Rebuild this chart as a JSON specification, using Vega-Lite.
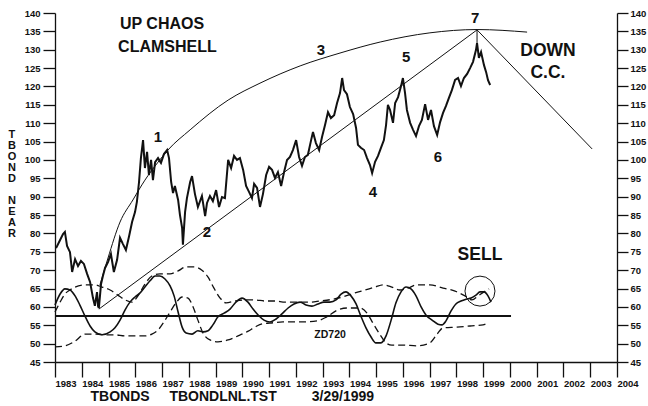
{
  "$schema": "https://vega.github.io/schema/vega-lite/v6.json",
  "width": 562,
  "height": 349,
  "autosize": {"type": "none"},
  "padding": {"left": 55, "top": 13, "right": 31, "bottom": 44},
  "background": "white",
  "config": {
    "view": {"stroke": null},
    "axis": {"grid": false, "domainColor": "#111", "tickColor": "#111", "labelColor": "#111", "domainWidth": 1.3, "tickWidth": 1.3, "labelFont": "Liberation Sans", "labelFontSize": 9.5, "labelFontWeight": "bold"},
    "text": {"font": "Liberation Sans", "fontWeight": "bold", "color": "#111", "align": "center", "baseline": "middle"}
  },
  "datasets": {
    "price": [
      {"t":1983.04,"v":76.0},{"t":1983.19,"v":78.2},{"t":1983.30,"v":79.8},{"t":1983.37,"v":80.4},{"t":1983.45,"v":76.6},{"t":1983.56,"v":74.9},{"t":1983.64,"v":69.5},{"t":1983.75,"v":73.0},{"t":1983.86,"v":71.1},{"t":1983.97,"v":72.5},
      {"t":1984.08,"v":71.7},{"t":1984.20,"v":69.0},{"t":1984.31,"v":66.8},{"t":1984.42,"v":62.4},{"t":1984.49,"v":60.3},{"t":1984.57,"v":64.0},{"t":1984.61,"v":60.2},{"t":1984.64,"v":59.7},{"t":1984.72,"v":66.2},{"t":1984.79,"v":68.4},
      {"t":1984.87,"v":70.6},{"t":1984.98,"v":72.2},{"t":1985.09,"v":74.4},{"t":1985.20,"v":69.5},{"t":1985.32,"v":72.8},{"t":1985.43,"v":78.8},{"t":1985.54,"v":77.1},{"t":1985.65,"v":75.5},{"t":1985.77,"v":79.3},{"t":1985.88,"v":83.1},
      {"t":1985.99,"v":85.8},{"t":1986.06,"v":88.6},{"t":1986.14,"v":94.0},{"t":1986.21,"v":100.5},{"t":1986.29,"v":105.4},{"t":1986.36,"v":97.8},{"t":1986.44,"v":102.2},{"t":1986.51,"v":95.9},{"t":1986.59,"v":100.0},{"t":1986.66,"v":94.5},
      {"t":1986.74,"v":99.4},{"t":1986.85,"v":100.5},{"t":1986.96,"v":99.2},{"t":1987.07,"v":101.6},{"t":1987.19,"v":102.7},{"t":1987.26,"v":100.5},{"t":1987.34,"v":94.0},{"t":1987.41,"v":91.0},{"t":1987.48,"v":92.9},{"t":1987.60,"v":89.1},
      {"t":1987.67,"v":85.0},{"t":1987.75,"v":81.5},{"t":1987.78,"v":76.9},{"t":1987.86,"v":85.8},{"t":1987.93,"v":89.6},{"t":1988.05,"v":94.0},{"t":1988.12,"v":95.6},{"t":1988.23,"v":90.7},{"t":1988.34,"v":87.2},{"t":1988.49,"v":90.2},
      {"t":1988.61,"v":84.7},{"t":1988.68,"v":88.3},{"t":1988.79,"v":90.2},{"t":1988.90,"v":88.8},{"t":1989.02,"v":91.8},{"t":1989.13,"v":87.2},{"t":1989.24,"v":89.9},{"t":1989.35,"v":89.6},{"t":1989.47,"v":100.0},{"t":1989.58,"v":97.8},
      {"t":1989.69,"v":101.1},{"t":1989.80,"v":100.0},{"t":1989.91,"v":100.5},{"t":1990.03,"v":97.3},{"t":1990.14,"v":92.9},{"t":1990.25,"v":91.3},{"t":1990.36,"v":89.6},{"t":1990.44,"v":93.5},{"t":1990.55,"v":92.4},{"t":1990.66,"v":87.2},
      {"t":1990.77,"v":90.7},{"t":1990.89,"v":95.9},{"t":1991.00,"v":98.1},{"t":1991.11,"v":97.3},{"t":1991.22,"v":95.1},{"t":1991.33,"v":96.7},{"t":1991.45,"v":92.9},{"t":1991.56,"v":96.7},{"t":1991.67,"v":100.0},{"t":1991.78,"v":100.8},
      {"t":1991.89,"v":102.7},{"t":1992.01,"v":105.4},{"t":1992.12,"v":100.8},{"t":1992.23,"v":98.4},{"t":1992.34,"v":100.8},{"t":1992.45,"v":101.4},{"t":1992.57,"v":105.4},{"t":1992.64,"v":107.6},{"t":1992.75,"v":104.6},{"t":1992.87,"v":102.7},
      {"t":1992.98,"v":106.3},{"t":1993.09,"v":109.5},{"t":1993.20,"v":113.0},{"t":1993.31,"v":111.4},{"t":1993.43,"v":112.2},{"t":1993.54,"v":115.5},{"t":1993.65,"v":118.2},{"t":1993.73,"v":122.3},{"t":1993.80,"v":119.0},{"t":1993.91,"v":117.9},
      {"t":1994.02,"v":114.4},{"t":1994.14,"v":112.5},{"t":1994.25,"v":108.7},{"t":1994.32,"v":104.1},{"t":1994.43,"v":103.3},{"t":1994.55,"v":102.7},{"t":1994.66,"v":100.5},{"t":1994.77,"v":98.6},{"t":1994.85,"v":96.4},{"t":1994.96,"v":99.5},
      {"t":1995.07,"v":101.1},{"t":1995.18,"v":103.3},{"t":1995.29,"v":105.4},{"t":1995.37,"v":109.5},{"t":1995.44,"v":115.0},{"t":1995.52,"v":113.6},{"t":1995.63,"v":110.1},{"t":1995.71,"v":115.5},{"t":1995.82,"v":117.1},{"t":1995.93,"v":120.1},
      {"t":1996.00,"v":122.3},{"t":1996.08,"v":118.2},{"t":1996.15,"v":113.6},{"t":1996.27,"v":110.1},{"t":1996.38,"v":108.2},{"t":1996.49,"v":106.5},{"t":1996.60,"v":109.2},{"t":1996.71,"v":110.9},{"t":1996.83,"v":115.2},{"t":1996.94,"v":110.9},
      {"t":1997.05,"v":113.6},{"t":1997.16,"v":109.2},{"t":1997.28,"v":106.8},{"t":1997.39,"v":110.3},{"t":1997.50,"v":112.8},{"t":1997.61,"v":114.7},{"t":1997.72,"v":116.9},{"t":1997.83,"v":119.0},{"t":1997.95,"v":121.8},{"t":1998.06,"v":122.3},
      {"t":1998.17,"v":120.1},{"t":1998.28,"v":122.3},{"t":1998.40,"v":123.4},{"t":1998.51,"v":125.0},{"t":1998.62,"v":126.7},{"t":1998.73,"v":129.9},{"t":1998.77,"v":131.8},{"t":1998.84,"v":127.8},{"t":1998.92,"v":129.4},{"t":1999.03,"v":125.8},
      {"t":1999.11,"v":123.9},{"t":1999.18,"v":121.7},{"t":1999.26,"v":120.4}
    ],
    "osc": [
      {"t":1983.00,"v":60.5},{"t":1983.19,"v":63.5},{"t":1983.37,"v":64.9},{"t":1983.56,"v":64.6},{"t":1983.75,"v":63.0},{"t":1983.93,"v":60.5},{"t":1984.12,"v":57.5},{"t":1984.31,"v":54.8},{"t":1984.49,"v":53.2},{"t":1984.76,"v":52.4},
      {"t":1985.06,"v":53.2},{"t":1985.24,"v":54.3},{"t":1985.43,"v":56.4},{"t":1985.62,"v":59.2},{"t":1985.80,"v":61.3},{"t":1985.99,"v":62.7},{"t":1986.18,"v":63.8},{"t":1986.36,"v":65.4},{"t":1986.55,"v":67.1},{"t":1986.74,"v":68.4},
      {"t":1986.92,"v":68.4},{"t":1987.11,"v":67.6},{"t":1987.30,"v":65.7},{"t":1987.45,"v":63.0},{"t":1987.60,"v":58.6},{"t":1987.75,"v":54.5},{"t":1987.90,"v":52.9},{"t":1988.12,"v":52.6},{"t":1988.34,"v":53.5},{"t":1988.53,"v":53.2},
      {"t":1988.72,"v":53.5},{"t":1988.90,"v":55.1},{"t":1989.09,"v":57.3},{"t":1989.32,"v":58.3},{"t":1989.54,"v":59.4},{"t":1989.76,"v":61.3},{"t":1989.99,"v":62.4},{"t":1990.21,"v":61.3},{"t":1990.40,"v":59.4},{"t":1990.59,"v":57.8},
      {"t":1990.81,"v":56.4},{"t":1991.03,"v":55.9},{"t":1991.26,"v":56.7},{"t":1991.48,"v":58.1},{"t":1991.71,"v":59.7},{"t":1991.93,"v":60.8},{"t":1992.16,"v":61.3},{"t":1992.38,"v":60.5},{"t":1992.60,"v":60.2},{"t":1992.83,"v":60.8},
      {"t":1993.05,"v":61.3},{"t":1993.27,"v":61.3},{"t":1993.50,"v":61.9},{"t":1993.69,"v":63.5},{"t":1993.87,"v":64.1},{"t":1994.06,"v":63.0},{"t":1994.25,"v":60.8},{"t":1994.43,"v":57.5},{"t":1994.62,"v":54.3},{"t":1994.81,"v":51.8},
      {"t":1994.99,"v":50.2},{"t":1995.18,"v":50.2},{"t":1995.37,"v":52.1},{"t":1995.56,"v":56.4},{"t":1995.74,"v":61.1},{"t":1995.93,"v":64.1},{"t":1996.12,"v":65.4},{"t":1996.30,"v":64.9},{"t":1996.49,"v":63.0},{"t":1996.68,"v":60.0},
      {"t":1996.86,"v":57.8},{"t":1997.09,"v":56.4},{"t":1997.31,"v":55.3},{"t":1997.46,"v":55.1},{"t":1997.61,"v":56.2},{"t":1997.80,"v":58.9},{"t":1997.98,"v":60.8},{"t":1998.17,"v":61.6},{"t":1998.36,"v":62.1},{"t":1998.55,"v":62.4},
      {"t":1998.73,"v":63.2},{"t":1998.88,"v":64.1},{"t":1999.03,"v":64.1},{"t":1999.18,"v":63.0},{"t":1999.29,"v":61.3}
    ],
    "bands": [
      {"s":"A","t":1983.00,"v":58.6},{"s":"A","t":1983.19,"v":61.3},{"s":"A","t":1983.37,"v":63.5},{"s":"A","t":1983.56,"v":64.6},{"s":"A","t":1983.75,"v":65.4},{"s":"A","t":1984.12,"v":66.0},{"s":"A","t":1984.49,"v":66.0},{"s":"A","t":1984.76,"v":65.4},{"s":"A","t":1985.06,"v":64.6},{"s":"A","t":1985.35,"v":63.2},
      {"s":"A","t":1985.62,"v":61.9},{"s":"A","t":1985.88,"v":61.3},{"s":"A","t":1986.10,"v":63.0},{"s":"A","t":1986.36,"v":66.2},{"s":"A","t":1986.62,"v":68.4},{"s":"A","t":1986.92,"v":69.0},{"s":"A","t":1987.30,"v":69.0},{"s":"A","t":1987.60,"v":69.8},{"s":"A","t":1987.90,"v":70.9},{"s":"A","t":1988.19,"v":70.9},
      {"s":"A","t":1988.49,"v":70.0},{"s":"A","t":1988.72,"v":68.1},{"s":"A","t":1988.94,"v":65.1},{"s":"A","t":1989.17,"v":62.4},{"s":"A","t":1989.39,"v":61.1},{"s":"A","t":1989.73,"v":61.6},{"s":"A","t":1990.10,"v":61.9},{"s":"A","t":1990.47,"v":61.9},{"s":"A","t":1990.85,"v":61.6},{"s":"A","t":1991.22,"v":61.6},
      {"s":"A","t":1991.60,"v":61.3},{"s":"A","t":1992.04,"v":61.3},{"s":"A","t":1992.53,"v":61.3},{"s":"A","t":1992.90,"v":61.6},{"s":"A","t":1993.39,"v":62.1},{"s":"A","t":1993.84,"v":62.9},{"s":"A","t":1994.21,"v":63.8},{"s":"A","t":1994.59,"v":64.6},{"s":"A","t":1994.96,"v":65.4},{"s":"A","t":1995.26,"v":66.0},
      {"s":"A","t":1995.59,"v":65.4},{"s":"A","t":1995.89,"v":64.6},{"s":"A","t":1996.19,"v":65.1},{"s":"A","t":1996.53,"v":66.0},{"s":"A","t":1997.01,"v":66.0},{"s":"A","t":1997.50,"v":65.1},{"s":"A","t":1997.95,"v":64.3},{"s":"A","t":1998.32,"v":63.0},{"s":"A","t":1998.58,"v":61.9},{"s":"A","t":1998.81,"v":63.0},
      {"s":"A","t":1999.03,"v":64.1},{"s":"A","t":1999.22,"v":64.9},
      {"s":"B","t":1983.00,"v":49.1},{"s":"B","t":1983.37,"v":49.4},{"s":"B","t":1983.75,"v":50.7},{"s":"B","t":1984.12,"v":52.6},{"s":"B","t":1984.49,"v":52.6},{"s":"B","t":1984.87,"v":52.4},{"s":"B","t":1985.24,"v":52.4},{"s":"B","t":1985.62,"v":52.1},{"s":"B","t":1985.99,"v":52.1},{"s":"B","t":1986.36,"v":52.1},
      {"s":"B","t":1986.62,"v":52.6},{"s":"B","t":1986.85,"v":53.7},{"s":"B","t":1987.07,"v":55.9},{"s":"B","t":1987.30,"v":58.6},{"s":"B","t":1987.52,"v":61.1},{"s":"B","t":1987.75,"v":62.7},{"s":"B","t":1987.97,"v":62.4},{"s":"B","t":1988.16,"v":60.0},{"s":"B","t":1988.34,"v":56.4},{"s":"B","t":1988.53,"v":52.9},
      {"s":"B","t":1988.79,"v":51.0},{"s":"B","t":1989.09,"v":50.5},{"s":"B","t":1989.47,"v":51.0},{"s":"B","t":1989.84,"v":52.1},{"s":"B","t":1990.22,"v":53.4},{"s":"B","t":1990.47,"v":54.5},{"s":"B","t":1990.74,"v":55.4},{"s":"B","t":1991.03,"v":55.6},{"s":"B","t":1991.52,"v":55.9},{"s":"B","t":1992.16,"v":55.9},
      {"s":"B","t":1992.79,"v":56.2},{"s":"B","t":1993.16,"v":57.3},{"s":"B","t":1993.54,"v":59.1},{"s":"B","t":1993.91,"v":59.7},{"s":"B","t":1994.40,"v":59.7},{"s":"B","t":1994.66,"v":58.3},{"s":"B","t":1994.88,"v":55.6},{"s":"B","t":1995.15,"v":52.4},{"s":"B","t":1995.37,"v":50.2},{"s":"B","t":1995.59,"v":49.6},
      {"s":"B","t":1996.00,"v":49.6},{"s":"B","t":1996.53,"v":49.4},{"s":"B","t":1997.01,"v":50.2},{"s":"B","t":1997.28,"v":52.6},{"s":"B","t":1997.50,"v":54.3},{"s":"B","t":1998.02,"v":54.5},{"s":"B","t":1998.51,"v":54.8},{"s":"B","t":1998.99,"v":55.1},{"s":"B","t":1999.18,"v":55.6}
    ],
    "arc": [
      {"t":1984.68,"v":66.0},{"t":1984.98,"v":73.3},{"t":1985.43,"v":83.1},{"t":1985.91,"v":89.1},{"t":1986.36,"v":94.5},{"t":1986.85,"v":99.4},{"t":1987.22,"v":102.7},{"t":1988.05,"v":108.2},{"t":1989.47,"v":116.3},{"t":1990.66,"v":120.9},
      {"t":1992.16,"v":125.6},{"t":1993.65,"v":129.1},{"t":1995.15,"v":132.1},{"t":1997.01,"v":134.6},{"t":1998.77,"v":135.5},{"t":2000.64,"v":134.8}
    ],
    "guides": [
      {"g":"trend","t":1984.64,"v":59.4},{"g":"trend","t":1998.77,"v":135.4},
      {"g":"down","t":1998.77,"v":135.4},{"g":"down","t":2003.07,"v":103.0},
      {"g":"peak","t":1998.77,"v":135.4},{"g":"peak","t":1998.77,"v":131.8}
    ],
    "level": [{"t":1983,"t2":2000.04,"v":57.5}],
    "sell": [{"t":1998.88,"v":64.3}],
    "headline": [
      {"t":1987.0,"v":137.0,"label":"UP CHAOS"},{"t":1987.2,"v":130.8,"label":"CLAMSHELL"}
    ],
    "callouts": [
      {"t":2001.42,"v":129.6,"label":"DOWN"},{"t":2001.42,"v":123.7,"label":"C.C."},
      {"t":1998.88,"v":74.1,"label":"SELL"}
    ],
    "nums": [
      {"t":1986.85,"v":106.2,"label":"1"},{"t":1988.68,"v":80.4,"label":"2"},{"t":1992.94,"v":129.9,"label":"3"},{"t":1994.88,"v":91.3,"label":"4"},
      {"t":1996.12,"v":128.0,"label":"5"},{"t":1997.31,"v":100.8,"label":"6"},{"t":1998.70,"v":138.6,"label":"7"}
    ],
    "note": [{"t":1993.28,"v":52.4,"label":"ZD720"}],
    "ytitle": [
      {"t":1981.39,"v":108.4,"label":["T","B","O","N","D"]},
      {"t":1981.39,"v":90.4,"label":["N","E","A","R"]}
    ],
    "footer": [
      {"t":1985.43,"v":35.4,"label":"TBONDS"},{"t":1989.28,"v":35.4,"label":"TBONDLNL.TST"},{"t":1993.76,"v":35.4,"label":"3/29/1999"}
    ]
  },
  "layer": [
    {
      "data": {"name": "price"},
      "mark": {"type": "line", "color": "#111", "strokeWidth": 2},
      "encoding": {
        "x": {"field": "t", "type": "quantitative", "scale": {"domain": [1983, 2004], "nice": false, "zero": false},
          "axis": {"values": [1983,1984,1985,1986,1987,1988,1989,1990,1991,1992,1993,1994,1995,1996,1997,1998,1999,2000,2001,2002,2003,2004], "format": "d", "title": null, "tickSize": 15, "labelAlign": "left", "labelDx": 1, "labelPadding": 1, "labelFlush": false, "labelOverlap": false, "labelBound": false, "labelFontSize": 9.5}},
        "y": {"field": "v", "type": "quantitative", "scale": {"domain": [45, 140], "nice": false, "zero": false},
          "axis": {"orient": "left", "values": [45,50,55,60,65,70,75,80,85,90,95,100,105,110,115,120,125,130,135,140], "tickSize": 12, "labelPadding": 3, "title": null}}
      }
    },
    {
      "data": {"name": "osc"},
      "mark": {"type": "line", "color": "#111", "strokeWidth": 1.6, "interpolate": "monotone"},
      "encoding": {
        "x": {"field": "t", "type": "quantitative", "axis": null},
        "y": {"field": "v", "type": "quantitative",
          "axis": {"orient": "right", "values": [45,50,55,60,65,70,75,80,85,90,95,100,105,110,115,120,125,130,135,140], "tickSize": 11, "labelPadding": 2, "title": null}}
      }
    },
    {
      "data": {"name": "bands"},
      "mark": {"type": "line", "color": "#111", "strokeWidth": 1.3, "strokeDash": [7, 4], "interpolate": "monotone"},
      "encoding": {
        "x": {"field": "t", "type": "quantitative", "axis": null},
        "y": {"field": "v", "type": "quantitative", "axis": null},
        "detail": {"field": "s"}
      }
    },
    {
      "data": {"name": "arc"},
      "mark": {"type": "line", "color": "#111", "strokeWidth": 1, "interpolate": "monotone"},
      "encoding": {
        "x": {"field": "t", "type": "quantitative", "axis": null},
        "y": {"field": "v", "type": "quantitative", "axis": null}
      }
    },
    {
      "data": {"name": "guides"},
      "mark": {"type": "line", "color": "#111", "strokeWidth": 1},
      "encoding": {
        "x": {"field": "t", "type": "quantitative", "axis": null},
        "y": {"field": "v", "type": "quantitative", "axis": null},
        "detail": {"field": "g"}
      }
    },
    {
      "data": {"name": "level"},
      "mark": {"type": "rule", "color": "#111", "strokeWidth": 2},
      "encoding": {
        "x": {"field": "t", "type": "quantitative", "axis": null},
        "x2": {"field": "t2"},
        "y": {"field": "v", "type": "quantitative", "axis": null}
      }
    },
    {
      "data": {"name": "sell"},
      "mark": {"type": "point", "shape": "circle", "filled": false, "size": 900, "stroke": "#111", "strokeWidth": 1, "opacity": 1},
      "encoding": {
        "x": {"field": "t", "type": "quantitative", "axis": null},
        "y": {"field": "v", "type": "quantitative", "axis": null}
      }
    },
    {
      "data": {"name": "headline"},
      "mark": {"type": "text", "fontSize": 16},
      "encoding": {
        "x": {"field": "t", "type": "quantitative", "axis": null},
        "y": {"field": "v", "type": "quantitative", "axis": null},
        "text": {"field": "label"}
      }
    },
    {
      "data": {"name": "callouts"},
      "mark": {"type": "text", "fontSize": 17.5},
      "encoding": {
        "x": {"field": "t", "type": "quantitative", "axis": null},
        "y": {"field": "v", "type": "quantitative", "axis": null},
        "text": {"field": "label"}
      }
    },
    {
      "data": {"name": "nums"},
      "mark": {"type": "text", "fontSize": 15},
      "encoding": {
        "x": {"field": "t", "type": "quantitative", "axis": null},
        "y": {"field": "v", "type": "quantitative", "axis": null},
        "text": {"field": "label"}
      }
    },
    {
      "data": {"name": "note"},
      "mark": {"type": "text", "fontSize": 10.5},
      "encoding": {
        "x": {"field": "t", "type": "quantitative", "axis": null},
        "y": {"field": "v", "type": "quantitative", "axis": null},
        "text": {"field": "label"}
      }
    },
    {
      "data": {"name": "ytitle"},
      "mark": {"type": "text", "fontSize": 11, "baseline": "top", "lineHeight": 11},
      "encoding": {
        "x": {"field": "t", "type": "quantitative", "axis": null},
        "y": {"field": "v", "type": "quantitative", "axis": null},
        "text": {"field": "label"}
      }
    },
    {
      "data": {"name": "footer"},
      "mark": {"type": "text", "fontSize": 14},
      "encoding": {
        "x": {"field": "t", "type": "quantitative", "axis": null},
        "y": {"field": "v", "type": "quantitative", "axis": null},
        "text": {"field": "label"}
      }
    }
  ],
  "resolve": {"axis": {"x": "independent", "y": "independent"}}
}
